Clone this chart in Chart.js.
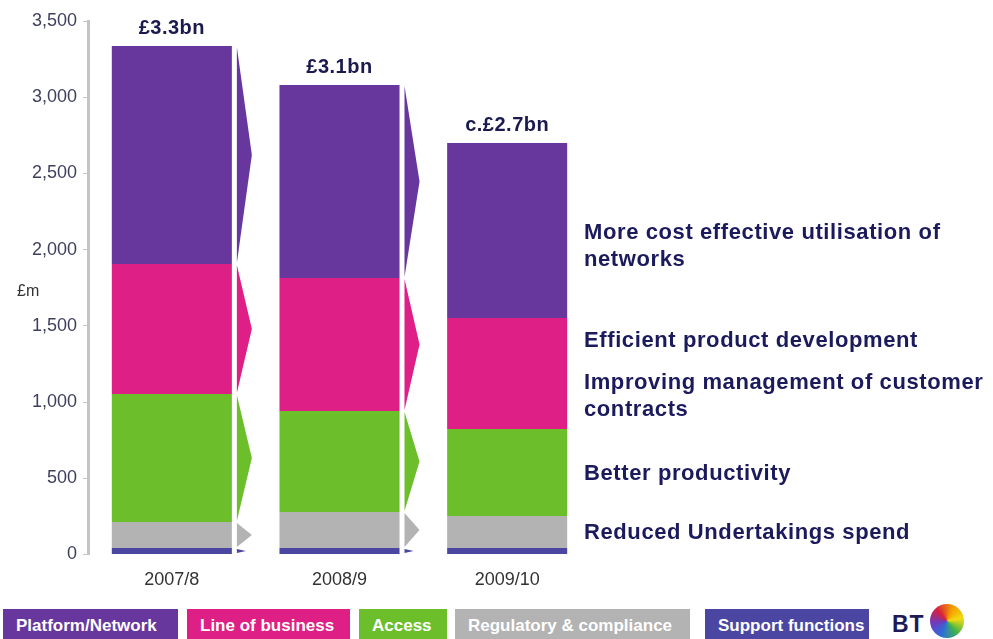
<!DOCTYPE html>
<html>
<head>
<meta charset="utf-8">
<script src="https://cdn.jsdelivr.net/npm/chart.js@4.4.0/dist/chart.umd.min.js"></script>
<style>
    body { margin: 0; background: #fff; font-family: "Liberation Sans", Arial, sans-serif; }
    #wrap { position: relative; width: 993px; height: 639px; overflow: hidden; }
    #chartBox { position: absolute; left: 0; top: 0; width: 600px; height: 600px; }
    .unit { position: absolute; left: 17px; top: 282px; font-size: 16px; color: #333; }
    .note { position: absolute; left: 584px; font-weight: bold; font-size: 22px; letter-spacing: 0.6px;
            line-height: 27px; color: #1b1a5c; white-space: nowrap; }
    .key { position: absolute; top: 609px; height: 30px; line-height: 33px; color: #fff; font-weight: bold;
           font-size: 17px; padding-left: 13px; box-sizing: border-box; white-space: nowrap; }
    .bt { position: absolute; left: 892px; top: 611px; font-weight: bold; font-size: 23px; letter-spacing: 1px; color: #1e1a5a; }
    .globe { position: absolute; left: 930px; top: 604px; width: 34px; height: 34px; border-radius: 50%;
             background: conic-gradient(from 200deg, #2d6fd8, #6b3cc0, #d8203c, #f39a00, #f2dc10, #3fb34a, #2d6fd8); }
</style>
</head>
<body>
<div id="wrap">
    <div id="chartBox"><canvas id="myChart"></canvas></div>
    <div class="unit">£m</div>
    <div id="notes"></div>
    <div id="legend"></div>
    <div class="bt">BT</div>
    <div class="globe"></div>
</div>
<script>
// データ
const categories = ['2007/8', '2008/9', '2009/10'];
const totalLabels = ['£3.3bn', '£3.1bn', 'c.£2.7bn'];

const platformNetwork = [1430, 1266, 1148];
const lineOfBusiness = [853, 873, 729];
const access = [840, 662, 570];
const regulatory = [170, 236, 210];
const supportFunctions = [43, 43, 43];

const seriesNames = ['Platform/Network', 'Line of business', 'Access', 'Regulatory & compliance', 'Support functions'];
const seriesValues = [platformNetwork, lineOfBusiness, access, regulatory, supportFunctions];
const seriesColors = ['#67379d', '#de1f86', '#6cbf2b', '#b3b3b3', '#4b46a1'];

const notes = [
    ['More cost effective utilisation of', 'networks'],
    ['Efficient product development'],
    ['Improving management of customer', 'contracts'],
    ['Better productivity'],
    ['Reduced Undertakings spend']
];

// レイアウト
const noteTops = [218, 326, 368, 459, 518];
const keyBoxes = [[3, 175], [187, 163], [359, 88], [455, 235], [705, 164]];

document.addEventListener('DOMContentLoaded', () => {
    const ctx = document.getElementById('myChart').getContext('2d');

    // 積み上げ順は下から（Support functions が一番下）
    const datasets = seriesNames.map((name, i) => ({
        label: name,
        data: seriesValues[i],
        backgroundColor: seriesColors[i],
        borderWidth: 0
    })).reverse();

    const arrowPlugin = {
        id: 'arrows',
        afterDatasetsDraw(chart) {
            const c = chart.ctx;
            chart.data.datasets.forEach((ds, i) => {
                const meta = chart.getDatasetMeta(i);
                meta.data.forEach((bar, j) => {
                    if (j === meta.data.length - 1) return;
                    const { x, y, base, width } = bar.getProps(['x', 'y', 'base', 'width'], true);
                    const x0 = x + width / 2 + 5;
                    const h = base - y;
                    const w = Math.min(15, h + 3);
                    c.save();
                    c.fillStyle = ds.backgroundColor;
                    c.beginPath();
                    c.moveTo(x0, y + 1);
                    c.lineTo(x0 + w, (y + base) / 2);
                    c.lineTo(x0, base - 1);
                    c.closePath();
                    c.fill();
                    c.restore();
                });
            });
        }
    };

    const totalsPlugin = {
        id: 'totals',
        afterDatasetsDraw(chart) {
            const c = chart.ctx;
            const meta = chart.getDatasetMeta(chart.data.datasets.length - 1);
            c.save();
            c.font = 'bold 20px "Liberation Sans", Arial, sans-serif';
            c.letterSpacing = '0.5px';
            c.fillStyle = '#1b1a4e';
            c.textAlign = 'center';
            c.textBaseline = 'alphabetic';
            meta.data.forEach((bar, j) => {
                c.fillText(totalLabels[j], bar.x, bar.y - 12);
            });
            c.restore();
        }
    };

    new Chart(ctx, {
        type: 'bar',
        data: { labels: categories, datasets: datasets },
        options: {
            responsive: true,
            maintainAspectRatio: false,
            animation: false,
            layout: { padding: { top: 21, right: 9, bottom: 5.5, left: 0 } },
            datasets: { bar: { barPercentage: 0.716, categoryPercentage: 1 } },
            scales: {
                x: {
                    stacked: true,
                    grid: { display: false, drawTicks: false },
                    border: { display: false },
                    ticks: { padding: 15, color: '#333', font: { size: 18, family: '"Liberation Sans", Arial, sans-serif' } },
                    afterFit: (s) => { s.height = 40; }
                },
                y: {
                    stacked: true,
                    min: 0,
                    max: 3500,
                    grid: { drawOnChartArea: false, drawTicks: true, tickLength: 5, color: '#c4c4c4' },
                    border: { display: true, color: '#c4c4c4', width: 3 },
                    ticks: {
                        stepSize: 500,
                        padding: 6,
                        color: '#3f3f5f',
                        font: { size: 18, family: '"Liberation Sans", Arial, sans-serif' },
                        callback: (v) => v.toLocaleString('en-GB')
                    },
                    afterFit: (s) => { s.width = 88; }
                }
            },
            plugins: {
                legend: { display: false },
                tooltip: { enabled: false }
            }
        },
        plugins: [arrowPlugin, totalsPlugin]
    });

    // 右側の説明文
    const notesEl = document.getElementById('notes');
    notes.forEach((lines, i) => {
        const div = document.createElement('div');
        div.className = 'note';
        div.style.top = noteTops[i] + 'px';
        div.innerHTML = lines.join('<br>');
        notesEl.appendChild(div);
    });

    // 凡例
    const legendEl = document.getElementById('legend');
    seriesNames.forEach((name, i) => {
        const div = document.createElement('div');
        div.className = 'key';
        div.style.left = keyBoxes[i][0] + 'px';
        div.style.width = keyBoxes[i][1] + 'px';
        div.style.background = seriesColors[i];
        div.textContent = name;
        legendEl.appendChild(div);
    });
});
</script>
</body>
</html>
